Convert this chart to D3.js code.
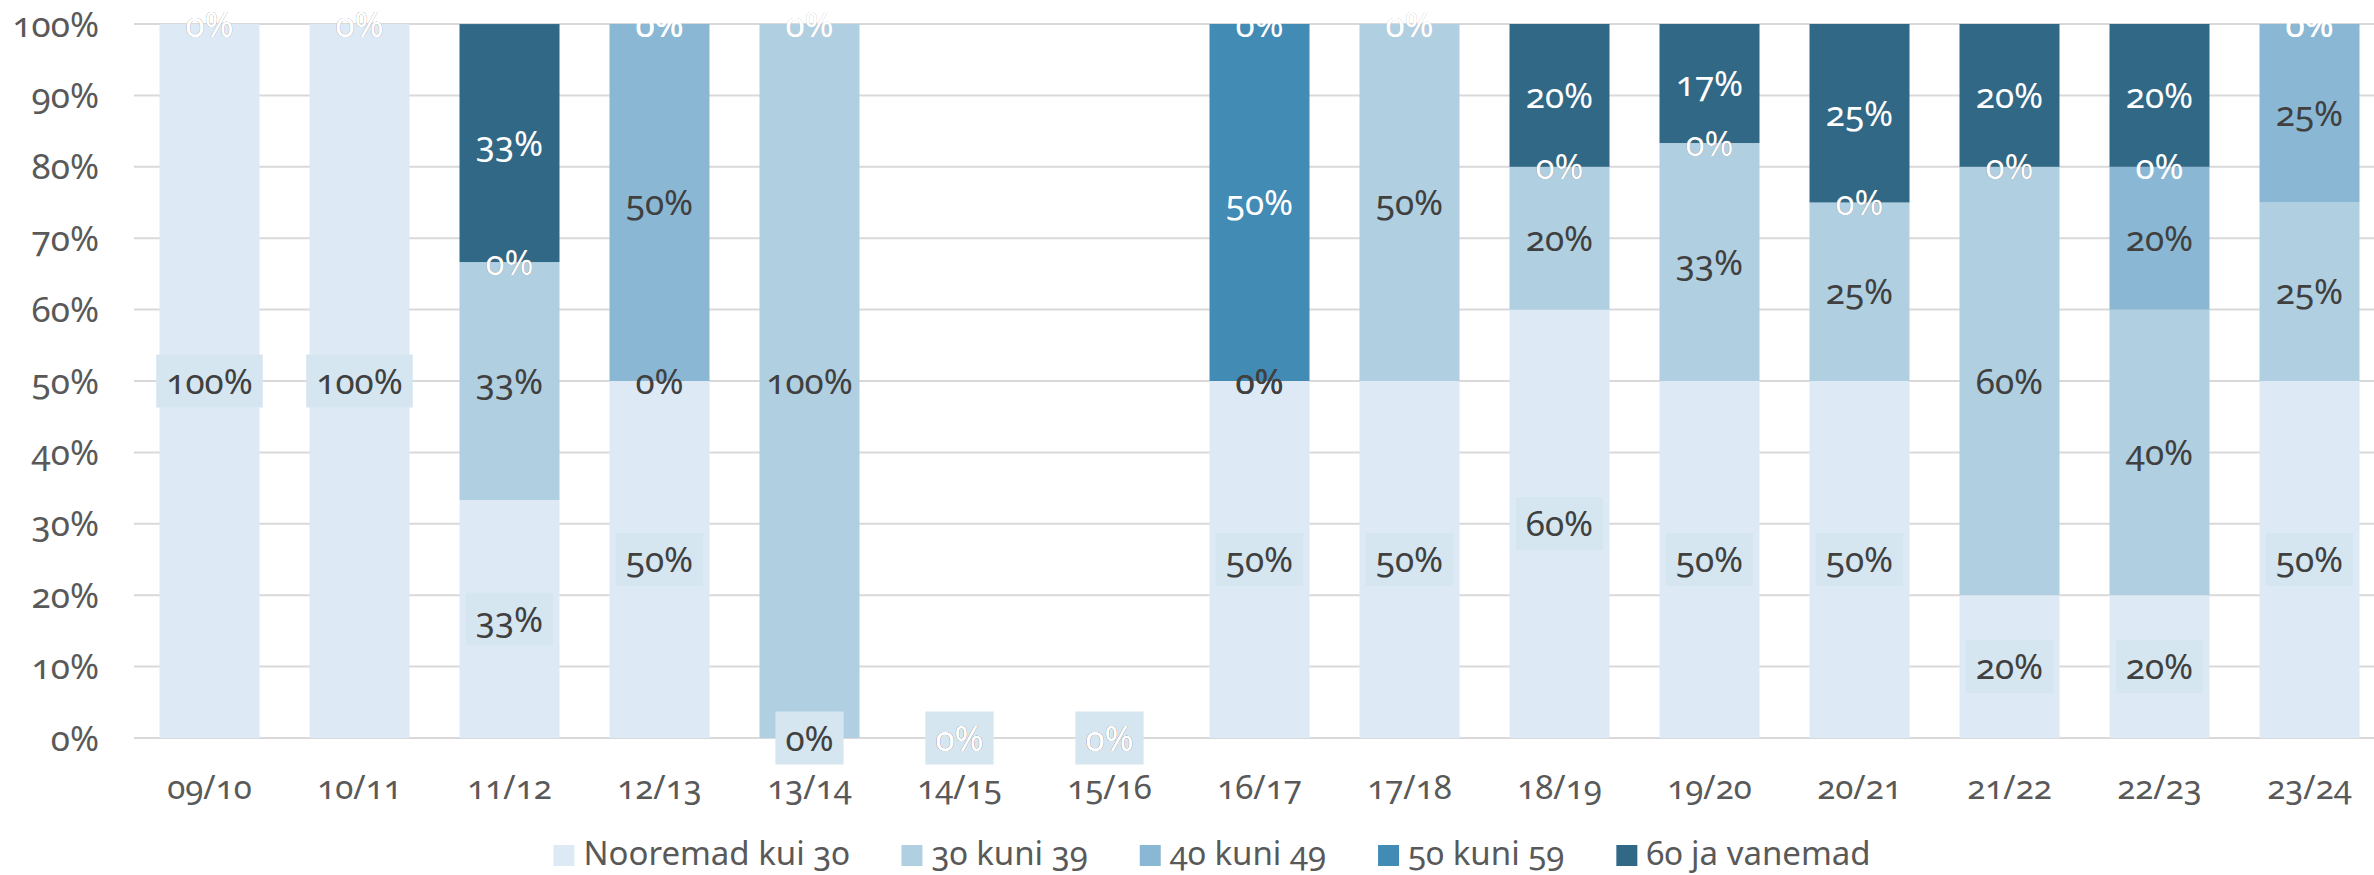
<!DOCTYPE html>
<html>
<head>
<meta charset="utf-8">
<script src="https://cdn.jsdelivr.net/npm/d3@7"></script>
<style>
  html, body { margin: 0; padding: 0; background: #fff; }
  svg text { font-family: "Noto Sans", "Open Sans", sans-serif; font-variant-numeric: oldstyle-nums; }
</style>
</head>
<body>
<svg id="chart" width="2374" height="875"></svg>
<script>
// school years
const categories = ['09/10', '10/11', '11/12', '12/13', '13/14', '14/15', '15/16', '16/17',
                    '17/18', '18/19', '19/20', '20/21', '21/22', '22/23', '23/24'];

// age groups, bottom to top
const seriesNames = ['Nooremad kui 30', '30 kuni 39', '40 kuni 49', '50 kuni 59', '60 ja vanemad'];

// share (%) of each age group per year
const under30   = [100, 100, 33.33, 50, 0,   0, 0, 50, 50, 60, 50,    50, 20, 20, 50];
const age30to39 = [0,   0,   33.33, 0,  100, 0, 0, 0,  50, 20, 33.33, 25, 60, 40, 25];
const age40to49 = [0,   0,   0,     50, 0,   0, 0, 0,  0,  0,  0,     0,  0,  20, 25];
const age50to59 = [0,   0,   0,     0,  0,   0, 0, 50, 0,  0,  0,     0,  0,  0,  0];
const age60plus = [0,   0,   33.33, 0,  0,   0, 0, 0,  0,  20, 16.67, 25, 20, 20, 0];

const yTicks = [0, 10, 20, 30, 40, 50, 60, 70, 80, 90, 100];

const colours = ['#ddeaf6', '#b0cfe1', '#8ab8d4', '#428bb5', '#316886'];
const labelColours = ['#404040', '#404040', '#404040', '#ffffff', '#ffffff'];

const seriesValues = [under30, age30to39, age40to49, age50to59, age60plus];
const rows = categories.map((c, i) => {
    const r = { year: c };
    seriesNames.forEach((s, k) => { r[s] = seriesValues[k][i]; });
    return r;
});

const svg = d3.select('#chart');
const x = d3.scaleBand().domain(categories).range([134.5, 2384.5]).paddingInner(1 / 3).paddingOuter(1 / 6);
const y = d3.scaleLinear().domain([0, 100]).range([738, 24]);

const stacked = d3.stack().keys(seriesNames)(rows);

// gridlines
svg.append('g').selectAll('line').data(yTicks).join('line')
    .attr('x1', 134).attr('x2', 2374)
    .attr('y1', d => y(d)).attr('y2', d => y(d))
    .attr('stroke', '#d9d9d9').attr('stroke-width', 2);

// y axis labels
svg.append('g').selectAll('text').data(yTicks).join('text')
    .attr('x', 99).attr('y', d => y(d)).attr('dy', '0.36em')
    .attr('text-anchor', 'end')
    .style('font-size', '35px').attr('fill', '#595959')
    .text(d => d + '%');

// x axis labels
svg.append('g').selectAll('text').data(categories).join('text')
    .attr('x', d => x(d) + x.bandwidth() / 2).attr('y', 799)
    .attr('text-anchor', 'middle')
    .style('font-size', '33px').attr('fill', '#595959')
    .text(d => d);

// stacked bars
svg.append('g').selectAll('g').data(stacked).join('g')
    .attr('fill', (d, i) => colours[i])
    .selectAll('rect').data(d => d).join('rect')
    .attr('x', d => x(d.data.year))
    .attr('width', x.bandwidth())
    .attr('y', d => y(d[1]))
    .attr('height', d => y(d[0]) - y(d[1]));

// data labels, in series order so later ones sit on top
const labels = svg.append('g');
stacked.forEach((layer, k) => {
    layer.forEach(d => {
        const cx = x(d.data.year) + x.bandwidth() / 2;
        const cy = y((d[0] + d[1]) / 2);
        const txt = Math.round(d[1] - d[0]) + '%';
        const t = labels.append('text')
            .attr('x', cx).attr('y', cy).attr('dy', '0.36em')
            .attr('text-anchor', 'middle')
            .style('font-size', '35px')
            .attr('fill', labelColours[k])
            .text(txt);
        if (k === 0) {
            const w = t.node().getComputedTextLength() + 20;
            labels.insert('rect', () => t.node())
                .attr('x', cx - w / 2).attr('y', cy - 26.5)
                .attr('width', w).attr('height', 53)
                .attr('fill', '#d5e6f0');
        }
    });
});

// legend
const legend = svg.append('g');
let lx = 0;
seriesNames.forEach((s, i) => {
    const item = legend.append('g').attr('transform', `translate(${lx},0)`);
    item.append('rect').attr('x', 0).attr('y', 845).attr('width', 21).attr('height', 21)
        .attr('fill', colours[i]);
    const t = item.append('text').attr('x', 30).attr('y', 865)
        .style('font-size', '33px').attr('fill', '#595959').text(s);
    lx += 30 + t.node().getComputedTextLength() + 52;
});
const legendWidth = lx - 52;
legend.attr('transform', `translate(${1212 - legendWidth / 2},0)`);
</script>
</body>
</html>
